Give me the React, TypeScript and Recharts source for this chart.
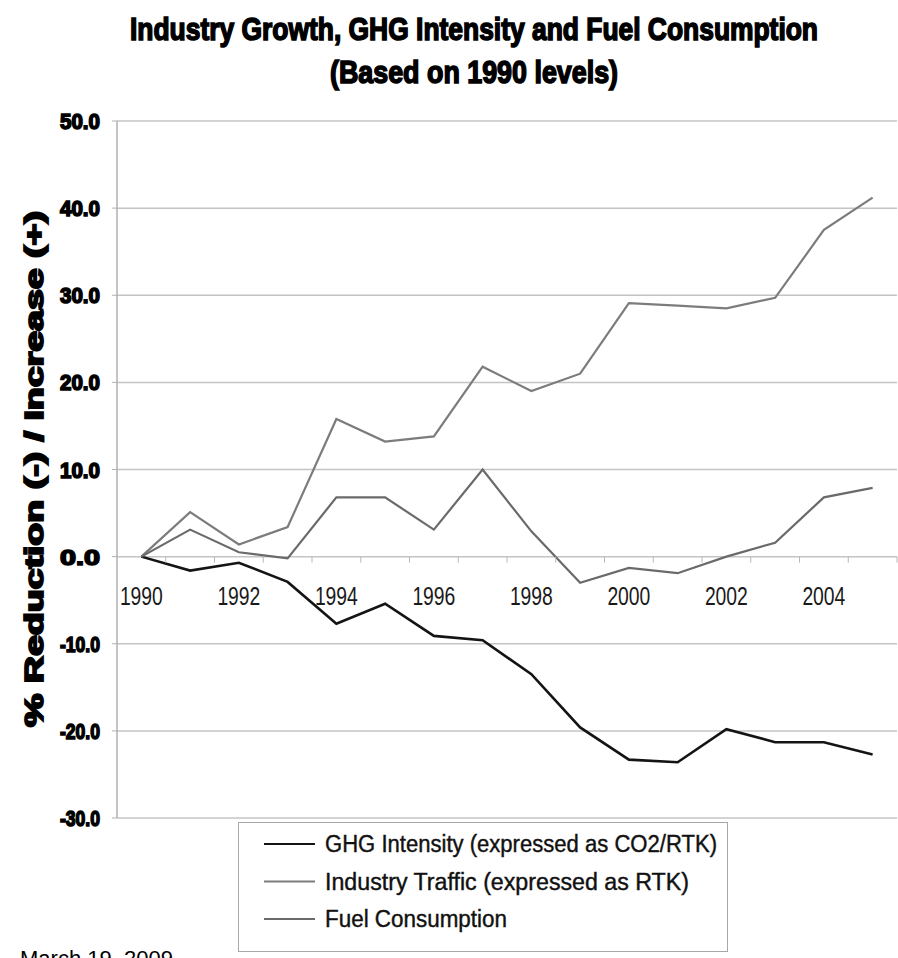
import { LineChart, Line, XAxis, YAxis, CartesianGrid, Legend, Label } from "recharts"

const years = [1990, 1991, 1992, 1993, 1994, 1995, 1996, 1997, 1998, 1999, 2000, 2001, 2002, 2003, 2004, 2005]
const ghgIntensity = [0, -1.6, -0.7, -2.9, -7.7, -5.4, -9.1, -9.6, -13.5, -19.6, -23.3, -23.6, -19.8, -21.3, -21.3, -22.7]
const industryTraffic = [0, 5.1, 1.4, 3.4, 15.8, 13.2, 13.8, 21.8, 19.0, 21.0, 29.1, 28.8, 28.5, 29.7, 37.5, 41.2]
const fuelConsumption = [0, 3.1, 0.5, -0.2, 6.8, 6.8, 3.1, 10.0, 2.9, -3.0, -1.3, -1.9, 0.0, 1.6, 6.8, 7.9]
const yTicks = [-30, -20, -10, 0, 10, 20, 30, 40, 50]

const seriesNames = [
  "GHG Intensity (expressed as CO2/RTK)",
  "Industry Traffic (expressed as RTK)",
  "Fuel Consumption",
]
// squeezed widths of the legend labels, the font in the picture is a narrow one
const legendTextWidths = [392, 364, 182]

const data = years.map((y, i) => ({
  year: y,
  ghg: ghgIntensity[i],
  traffic: industryTraffic[i],
  fuel: fuelConsumption[i],
}))

const W = 898
const H = 958
const PLOT_TOP = 121
const PLOT_BOTTOM = 818
const Y_MIN = -30
const Y_MAX = 50
const ZERO_Y = PLOT_TOP + ((PLOT_BOTTOM - PLOT_TOP) * Y_MAX) / (Y_MAX - Y_MIN)
const STEP = (897 - 117) / years.length
const X_AXIS_H = 20

const font = "'Liberation Sans', Arial, sans-serif"

function YearTick(props: any) {
  const { x, index, payload } = props
  return (
    <g>
      <line x1={x + STEP / 2} x2={x + STEP / 2} y1={ZERO_Y} y2={ZERO_Y + 6} stroke="#b8b8b8" />
      {index % 2 === 0 && (
        <text
          x={x}
          y={ZERO_Y + 48}
          textAnchor="middle"
          fontFamily={font}
          fontSize={25}
          fill="#1a1a1a"
          textLength={43}
          lengthAdjust="spacingAndGlyphs"
        >
          {payload.value}
        </text>
      )}
    </g>
  )
}

function YValueTick(props: any) {
  const { x, y, payload } = props
  return (
    <text
      x={x}
      y={y}
      dy={8}
      textAnchor="end"
      fontFamily={font}
      fontWeight="bold"
      fontSize={22}
      fill="#000"
      stroke="#000"
      strokeWidth={1.6}
      textLength={40}
      lengthAdjust="spacingAndGlyphs"
    >
      {payload.value.toFixed(1)}
    </text>
  )
}

function YTitle() {
  const cx = 34
  const cy = 469
  return (
    <text
      x={cx}
      y={cy}
      transform={`rotate(-90, ${cx}, ${cy})`}
      textAnchor="middle"
      dominantBaseline="central"
      fontFamily={font}
      fontWeight="bold"
      fontSize={25}
      fill="#000"
      stroke="#000"
      strokeWidth={1.8}
      textLength={516}
      lengthAdjust="spacingAndGlyphs"
    >
      % Reduction (-) / Increase (+)
    </text>
  )
}

function LegendBox(props: any) {
  const items = [...(props.payload || [])].sort(
    (a: any, b: any) => seriesNames.indexOf(a.value) - seriesNames.indexOf(b.value)
  )
  return (
    <svg width={490} height={130} style={{ display: "block" }}>
      <rect x={0.5} y={0.5} width={489} height={129} fill="#fff" stroke="#a8a8a8" />
      {items.map((p: any, i: number) => {
        const cy = 22 + i * 37.5
        const k = seriesNames.indexOf(p.value)
        return (
          <g key={p.value}>
            <line x1={26} x2={77} y1={cy} y2={cy} stroke={p.color} strokeWidth={2} />
            <text
              x={87}
              y={cy + 8}
              fontFamily={font}
              fontSize={23}
              fill="#111"
              stroke="#111"
              strokeWidth={0.4}
              textLength={legendTextWidths[k]}
              lengthAdjust="spacingAndGlyphs"
            >
              {p.value}
            </text>
          </g>
        )
      })}
    </svg>
  )
}

export default function App() {
  return (
    <div style={{ position: "absolute", left: 0, top: 0, width: W, height: H, background: "#fff", overflow: "hidden" }}>
      <svg width={W} height={100} style={{ position: "absolute", left: 0, top: 0 }}>
        <g fontFamily={font} fontWeight="bold" fontSize={32} fill="#000" stroke="#000" strokeWidth={1.6} textAnchor="middle">
          <text x={474} y={40} textLength={688} lengthAdjust="spacingAndGlyphs">
            Industry Growth, GHG Intensity and Fuel Consumption
          </text>
          <text x={474} y={83} textLength={288} lengthAdjust="spacingAndGlyphs">
            (Based on 1990 levels)
          </text>
        </g>
      </svg>
      <LineChart
        width={W}
        height={H}
        data={data}
        margin={{ top: PLOT_TOP, right: 1, bottom: H - PLOT_BOTTOM - X_AXIS_H, left: 0 }}
      >
        <CartesianGrid vertical={false} stroke="#c4c4c4" strokeWidth={1.5} />
        <XAxis
          dataKey="year"
          height={X_AXIS_H}
          interval={0}
          padding={{ left: STEP / 2, right: STEP / 2 }}
          axisLine={false}
          tickLine={false}
          tick={<YearTick />}
        />
        <YAxis
          width={117}
          domain={[Y_MIN, Y_MAX]}
          ticks={yTicks}
          interval={0}
          axisLine={{ stroke: "#b0b0b0", strokeWidth: 1.5 }}
          tickLine={{ stroke: "#b0b0b0" }}
          tickSize={5}
          tickMargin={12}
          tick={<YValueTick />}
        >
          <Label content={<YTitle />} />
        </YAxis>
        <Line dataKey="ghg" name={seriesNames[0]} stroke="#141414" strokeWidth={2.6} dot={false} isAnimationActive={false} />
        <Line dataKey="traffic" name={seriesNames[1]} stroke="#7c7c7c" strokeWidth={2.2} dot={false} isAnimationActive={false} />
        <Line dataKey="fuel" name={seriesNames[2]} stroke="#6a6a6a" strokeWidth={2.2} dot={false} isAnimationActive={false} />
        <Legend
          layout="vertical"
          align="center"
          verticalAlign="middle"
          content={<LegendBox />}
          wrapperStyle={{ position: "absolute", left: 238, top: 822, width: 490, height: 130 }}
        />
      </LineChart>
      <div
        style={{
          position: "absolute",
          left: 20,
          top: 946,
          fontFamily: font,
          fontSize: 22,
          color: "#000",
          whiteSpace: "nowrap",
        }}
      >
        March 19, 2009
      </div>
    </div>
  )
}
